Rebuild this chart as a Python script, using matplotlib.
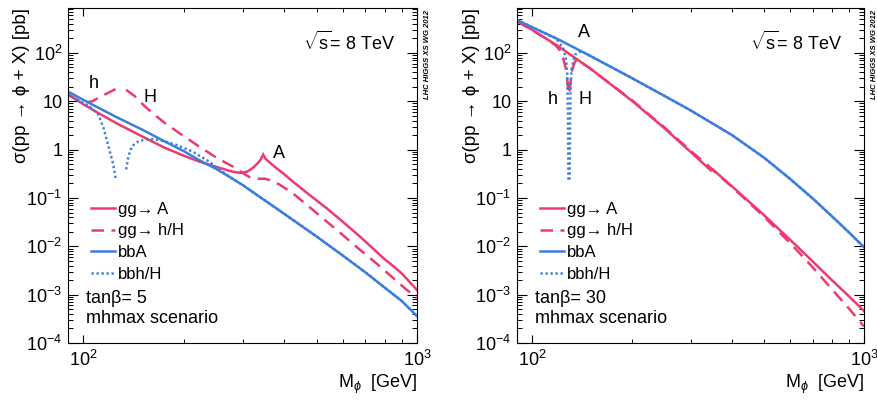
import matplotlib
matplotlib.use("Agg")
import matplotlib.pyplot as plt
from matplotlib.ticker import FixedLocator, NullFormatter, LogLocator

plt.rcParams['font.family'] = ['Liberation Sans', 'DejaVu Sans']
plt.rcParams['mathtext.fontset'] = 'custom'
plt.rcParams['mathtext.rm'] = 'Liberation Sans'
plt.rcParams['mathtext.it'] = 'Liberation Sans:italic'
plt.rcParams['mathtext.bf'] = 'Liberation Sans:bold'

# ---------------- data: tan(beta) = 5 ----------------
m_A5 = [90, 100, 111, 125, 140, 160, 176, 200, 222, 250, 280, 295, 310, 321, 333, 340, 346,
        352, 375, 400, 424, 460, 500, 535, 600, 674, 700, 800, 849, 900, 1000]
ggA5 = [14, 8.7, 5.7, 3.6, 2.4, 1.5, 1.08, 0.75, 0.57, 0.44, 0.35, 0.33, 0.35, 0.41, 0.52, 0.62, 0.79,
        0.64, 0.44, 0.31, 0.22, 0.14, 0.089, 0.062, 0.032, 0.016, 0.0126, 5.4e-3, 3.9e-3, 2.75e-3, 1.25e-3]

m_h5 = [90, 95, 100, 106, 113, 120, 126.5]
ggh5 = [13.6, 11, 9.4, 9.9, 12.6, 15.5, 18.7]
m_H5 = [134.4, 143, 153, 165, 176, 200, 222, 250, 280, 300, 315, 336, 350, 361, 387, 424,
        480, 535, 600, 674, 760, 849, 920, 1000]
ggH5 = [17.3, 12.6, 7.8, 5.0, 3.5, 1.9, 1.17, 0.69, 0.45, 0.33, 0.27, 0.25, 0.25, 0.235, 0.19, 0.126,
        0.062, 0.033, 0.017, 8.5e-3, 4.3e-3, 2.2e-3, 1.35e-3, 8.5e-4]

m_b5 = [90, 100, 125, 150, 175, 200, 225, 250, 275, 300, 350, 400, 450, 500, 600, 700, 800, 900, 1000]
bbA5 = [15.9, 10.7, 4.8, 2.6, 1.49, 0.93, 0.58, 0.40, 0.27, 0.186, 0.089, 0.047, 0.0266, 0.016,
        6.4e-3, 2.9e-3, 1.4e-3, 7.4e-4, 3.6e-4]

m_bh5 = [90, 100, 106, 111, 115, 119, 123, 125.2]
bbh5 = [13.6, 9.2, 7.2, 5.3, 2.8, 1.17, 0.49, 0.24]
m_bH5 = [134.4, 136.6, 139.8, 146.5, 157, 168, 189, 212, 238, 255, 275, 300, 350, 400, 450, 500,
         600, 700, 800, 900, 1000]
bbH5 = [0.39, 0.73, 1.17, 1.5, 1.66, 1.6, 1.27, 0.92, 0.57, 0.39, 0.27, 0.186, 0.089, 0.047, 0.0266,
        0.016, 6.4e-3, 2.9e-3, 1.4e-3, 7.4e-4, 3.6e-4]

# ---------------- data: tan(beta) = 30 ----------------
m_A30 = [90, 100, 120, 150, 200, 250, 300, 340, 346, 350, 400, 500, 600, 700, 800, 900, 1000]
ggA30 = [460, 300, 137, 47, 10.2, 2.8, 0.90, 0.41, 0.37, 0.39, 0.174, 0.044, 0.0135, 4.9e-3,
         2.0e-3, 9.3e-4, 4.6e-4]

m_h30 = [90, 100, 110, 118, 121, 124, 126.5, 127.8, 128.5]
ggh30 = [450, 295, 200, 140, 115, 78, 45, 25, 16]
m_H30 = [129.6, 131.5, 134.5, 137, 150, 200, 250, 300, 340, 350, 360, 400, 500, 600, 700, 800, 900, 1000]
ggH30 = [16, 41, 66, 72, 47, 10.5, 2.9, 0.95, 0.46, 0.38, 0.32, 0.17, 0.041, 0.0115, 3.7e-3,
         1.3e-3, 5.2e-4, 2.2e-4]

m_b30 = [90, 100, 120, 150, 200, 250, 300, 400, 500, 600, 700, 800, 900, 1000]
bbA30 = [480, 340, 190, 86, 30, 13, 6.5, 2.0, 0.68, 0.245, 0.098, 0.042, 0.0195, 0.0096]

m_bh30 = [90, 100, 110, 118, 121, 124, 126.3, 127.5, 128.2, 128.6]
bbh30 = [480, 340, 250, 200, 158, 125, 78, 41, 5, 0.24]
m_bH30 = [129.6, 130.5, 131.5, 134.5, 139.3, 144, 150, 200, 250, 300, 400, 500, 600, 700, 800, 900, 1000]
bbH30 = [0.24, 20, 48, 91, 106, 100, 86, 30, 13, 6.5, 2.0, 0.68, 0.245, 0.098, 0.042, 0.0195, 0.0096]

y_ticks = [1e-4, 1e-3, 1e-2, 1e-1, 1, 10, 1e2]
y_labels = [r'$\mathregular{10^{-4}}$', r'$\mathregular{10^{-3}}$', r'$\mathregular{10^{-2}}$',
            r'$\mathregular{10^{-1}}$', '1', '10', r'$\mathregular{10^{2}}$']
x_ticks = [100, 1000]
x_labels = [r'$\mathregular{10^{2}}$', r'$\mathregular{10^{3}}$']
legend_labels = ['gg\u2192 A', 'gg\u2192 h/H', 'bbA', 'bbh/H']

PINK = '#EE3A6D'
BLUE = '#3C7DE0'
LW = 1.8

fig = plt.figure(figsize=(8.78, 4.03), dpi=100)
ax1 = fig.add_axes([68/878, 60/403, 349/878, 335/403])
ax2 = fig.add_axes([517/878, 60/403, 347/878, 335/403])

panels = [
    (ax1, (m_A5, ggA5), (m_h5, ggh5), (m_H5, ggH5), (m_b5, bbA5), (m_bh5, bbh5), (m_bH5, bbH5),
     '5', [('h', 0.0745, 0.776), ('H', 0.235, 0.734), ('A', 0.605, 0.567)], 22/878),
    (ax2, (m_A30, ggA30), (m_h30, ggh30), (m_H30, ggH30), (m_b30, bbA30), (m_bh30, bbh30), (m_bH30, bbH30),
     '30', [('A', 0.193, 0.928), ('h', 0.104, 0.728), ('H', 0.196, 0.728)], 472/878),
]

for ax, A, h, H, bA, bh, bH, tb, labs, ylx in panels:
    lA, = ax.plot(A[0], A[1], color=PINK, lw=LW, solid_joinstyle='miter')
    lh, = ax.plot(h[0], h[1], color=PINK, lw=LW, dashes=(5, 3))
    ax.plot(H[0], H[1], color=PINK, lw=LW, dashes=(5, 3))
    lb, = ax.plot(bA[0], bA[1], color=BLUE, lw=LW)
    lbh, = ax.plot(bh[0], bh[1], color=BLUE, lw=LW, dashes=(0.9, 1.1))
    ax.plot(bH[0], bH[1], color=BLUE, lw=LW, dashes=(0.9, 1.1))
    ax.set_xscale('log')
    ax.set_yscale('log')
    ax.set_xlim(90, 1000)
    ax.set_ylim(1e-4, 850)
    ax.set_yticks(y_ticks)
    ax.set_yticklabels(y_labels)
    ax.set_xticks(x_ticks)
    ax.set_xticklabels(x_labels)
    ax.yaxis.set_minor_locator(LogLocator(base=10, subs=range(2, 10), numticks=20))
    ax.xaxis.set_minor_locator(FixedLocator([200, 300, 400, 500, 600, 700, 800, 900]))
    ax.yaxis.set_minor_formatter(NullFormatter())
    ax.xaxis.set_minor_formatter(NullFormatter())
    ax.tick_params(axis='y', which='major', direction='in', length=7.2, width=0.8,
                   left=True, right=True, labelsize=13, pad=4)
    ax.tick_params(axis='y', which='minor', direction='in', length=3.6, width=0.7,
                   left=True, right=True)
    ax.tick_params(axis='x', which='major', direction='in', length=5.8, width=0.8,
                   bottom=True, top=True, labelsize=13, pad=5)
    ax.tick_params(axis='x', which='minor', direction='in', length=3.2, width=0.7,
                   bottom=True, top=True)
    for s in ax.spines.values():
        s.set_linewidth(0.8)
    leg = ax.legend([lA, lh, lb, lbh], legend_labels, loc='upper left',
                    bbox_to_anchor=(0.065, 0.422), frameon=False, fontsize=12,
                    handlelength=1.45, handletextpad=0.2, labelspacing=0.41,
                    borderpad=0, borderaxespad=0)
    ax.text(0.052, 0.134, 'tan\u03b2= ' + tb, transform=ax.transAxes, fontsize=13,
            ha='left', va='center')
    ax.text(0.052, 0.072, 'mhmax scenario', transform=ax.transAxes, fontsize=13,
            ha='left', va='center')
    ax.text(0.805, 0.896, r'$\sqrt{\mathregular{s}}$= 8 TeV', transform=ax.transAxes,
            fontsize=13, ha='center', va='center')
    for t, x, y in labs:
        ax.text(x, y, t, transform=ax.transAxes, fontsize=13, ha='center', va='center')
    ax.text(1.0, -0.125, r'M$_{\phi}$  [GeV]', transform=ax.transAxes, fontsize=13,
            ha='right', va='center')
    fig.text(ylx, 0.98, '\u03c3(pp \u2192 \u03d5 + X) [pb]', rotation=90, fontsize=13.5,
             ha='center', va='top')
    pos = ax.get_position()
    fig.text(pos.x1 + 11/878, 0.975, 'LHC HIGGS XS WG 2012', rotation=90, fontsize=5.5,
             fontweight='bold', fontstyle='italic', ha='center', va='top')

fig.savefig('out.png', dpi=100)
